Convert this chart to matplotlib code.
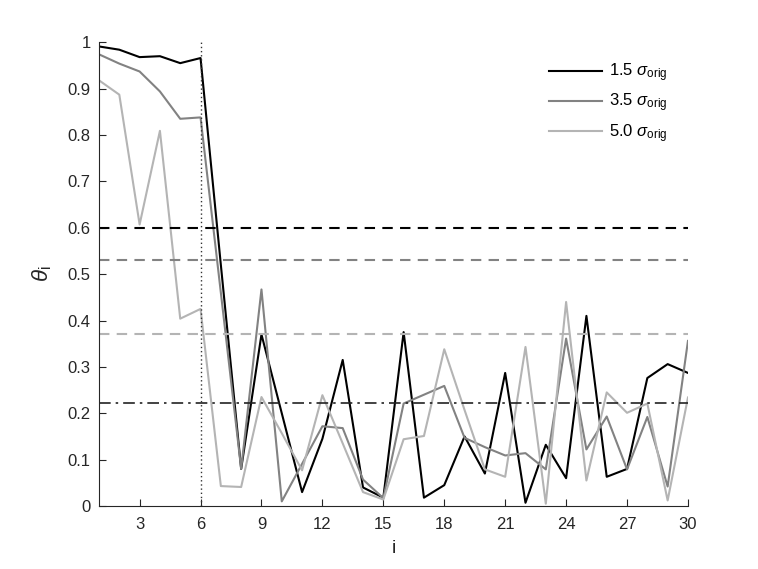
import numpy as np
import matplotlib
matplotlib.use('Agg')
import matplotlib.pyplot as plt

plt.rcParams['font.family'] = ['Liberation Sans', 'DejaVu Sans']
plt.rcParams['mathtext.fontset'] = 'custom'
plt.rcParams['mathtext.rm'] = 'Liberation Sans'
plt.rcParams['mathtext.it'] = 'Liberation Sans:italic'

# values
idx = np.arange(1, 31)
theta_15 = [0.991, 0.984, 0.968, 0.970, 0.955, 0.966, 0.52, 0.080, 0.370, 0.200,
            0.030, 0.145, 0.315, 0.040, 0.018, 0.375, 0.018, 0.045, 0.150, 0.070,
            0.287, 0.007, 0.132, 0.060, 0.410, 0.063, 0.080, 0.276, 0.306, 0.287]
theta_35 = [0.974, 0.954, 0.937, 0.894, 0.835, 0.838, 0.46, 0.080, 0.467, 0.010,
            0.091, 0.172, 0.168, 0.057, 0.017, 0.221, 0.240, 0.259, 0.147, 0.127,
            0.109, 0.114, 0.079, 0.361, 0.122, 0.193, 0.079, 0.192, 0.042, 0.356]
theta_50 = [0.918, 0.887, 0.607, 0.809, 0.404, 0.425, 0.043, 0.041, 0.235, 0.157,
            0.077, 0.239, 0.135, 0.030, 0.014, 0.144, 0.151, 0.338, 0.207, 0.079,
            0.063, 0.343, 0.005, 0.440, 0.055, 0.245, 0.201, 0.221, 0.012, 0.234]
labels = ['1.5 $\\sigma_{\\mathrm{orig}}$', '3.5 $\\sigma_{\\mathrm{orig}}$',
          '5.0 $\\sigma_{\\mathrm{orig}}$']
thresholds = [0.600, 0.531, 0.372]
mean_level = 0.222
cut = 6

colors = ['black', '#828282', '#b4b4b4']

fig = plt.figure(figsize=(7.58, 5.69), dpi=100)
ax = fig.add_axes([0.1306, 0.1107, 0.777, 0.815])

for y, c, lab in zip([theta_15, theta_35, theta_50], colors, labels):
    ax.plot(idx, y, color=c, lw=1.5, label=lab)
for t, c in zip(thresholds, colors):
    ax.axhline(t, color=c, lw=1.5, ls=(0, (5, 3.5)))
ax.axhline(mean_level, color='#222222', lw=1.2, ls=(0, (7, 3, 1.5, 3)))
ax.axvline(cut, color='#333333', lw=1.0, ls=(0, (1, 2)))

ax.set_xlim(1, 30)
ax.set_ylim(0, 1)
ax.set_xticks(np.arange(3, 31, 3))
ax.set_yticks(np.arange(0, 1.01, 0.1))
ax.set_yticklabels(['0', '0.1', '0.2', '0.3', '0.4', '0.5', '0.6', '0.7', '0.8', '0.9', '1'])
ax.tick_params(direction='in', labelsize=12, length=5, width=0.8, colors='#262626')
ax.tick_params(axis='x', pad=8)
ax.tick_params(axis='y', pad=6)
for s in ['top', 'right']:
    ax.spines[s].set_visible(False)
for s in ['left', 'bottom']:
    ax.spines[s].set_color('#262626')
ax.set_xlabel('i', fontsize=14, color='#262626', labelpad=6)
ax.set_ylabel('$\\theta_{\\mathrm{i}}$', fontsize=16, color='#262626', labelpad=10)

ax.legend(loc='upper left', bbox_to_anchor=(0.764, 0.958), frameon=False, fontsize=12,
          handlelength=3.2, handletextpad=0.4, labelspacing=0.45,
          borderpad=0, borderaxespad=0)

fig.savefig('out.png', dpi=100)
